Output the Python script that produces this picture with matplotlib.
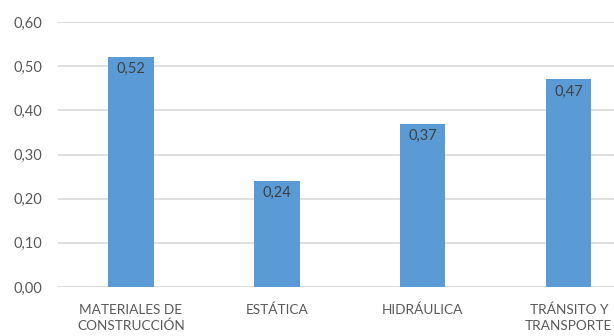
import matplotlib
matplotlib.use("Agg")
import matplotlib.pyplot as plt
from matplotlib.ticker import FuncFormatter

categories = ["MATERIALES DE\nCONSTRUCCIÓN", "ESTÁTICA", "HIDRÁULICA", "TRÁNSITO Y\nTRANSPORTE"]
values = [0.52, 0.24, 0.37, 0.47]
yticks = [0.0, 0.1, 0.2, 0.3, 0.4, 0.5, 0.6]

plt.rcParams['font.family'] = ['Lato', 'DejaVu Sans']

fig = plt.figure(figsize=(6.14, 3.36), dpi=100)
ax = fig.add_axes([58/614, (336-287)/336, 556/614, (287-22)/336])

x = list(range(len(categories)))
bars = ax.bar(x, values, width=0.31, color="#5B9BD5", zorder=3)

for xi, v in zip(x, values):
    ax.annotate(f"{v:.2f}".replace(".", ","), (xi, v), xytext=(0, -12),
                textcoords="offset pixels", ha="center", va="center",
                fontsize=10.5, color="#404040", zorder=4)

ax.set_xlim(-0.5, 3.31)
ax.set_ylim(0, 0.6)
ax.set_yticks(yticks)
ax.yaxis.set_major_formatter(FuncFormatter(lambda v, p: f"{v:.2f}".replace(".", ",")))
ax.set_xticks(x)
ax.set_xticklabels(categories, linespacing=1.4)
ax.grid(axis="y", color="#D9D9D9", linewidth=1.2, zorder=0)
for s in ax.spines.values():
    s.set_visible(False)
ax.tick_params(axis="both", length=0, colors="#595959")
ax.tick_params(axis="y", pad=11, labelsize=10.5)
ax.tick_params(axis="x", pad=12, labelsize=9.8)

fig.savefig("out.png", dpi=100)
